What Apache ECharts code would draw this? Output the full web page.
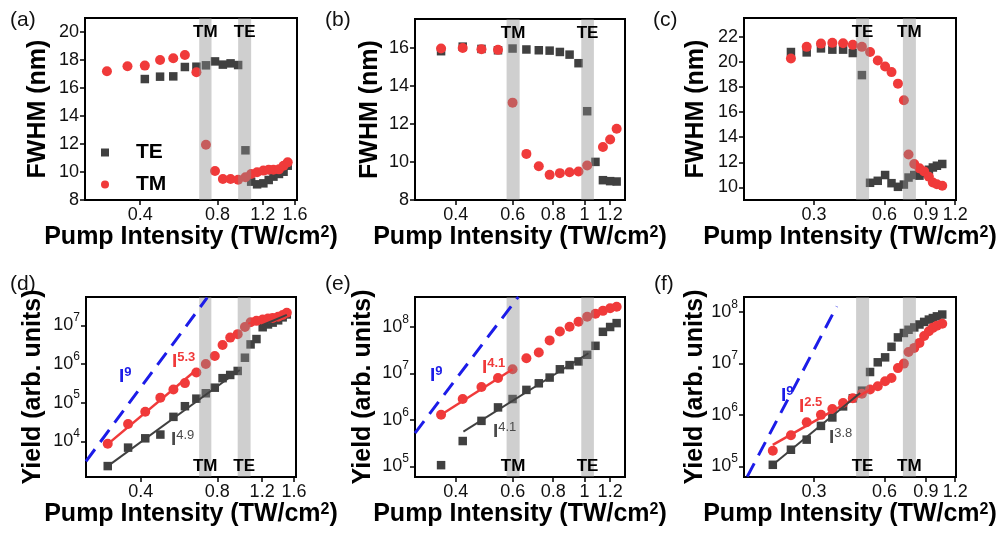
<!DOCTYPE html>
<html><head><meta charset="utf-8">
<script src="https://cdn.jsdelivr.net/npm/echarts@6/dist/echarts.min.js"></script>
<style>html,body{margin:0;padding:0;background:#fff}#c{width:1004px;height:535px}</style>
</head><body><div id="c"></div>
<script>
const FONT = "'Liberation Sans', Arial, Helvetica, sans-serif";

// ---------- Panel (a) FWHM ----------
const aTMx = [0.297,0.357,0.417,0.478,0.538,0.597,0.662,0.721,0.782,0.839,0.899,0.962,1.027,1.081,1.14,1.206,1.265,1.32,1.387,1.445,1.5];
const aTMy = [17.2,17.55,17.6,18.0,18.12,18.36,17.12,11.95,10.07,9.5,9.5,9.45,9.62,9.86,9.98,10.1,10.16,10.16,10.19,10.45,10.69];
const aTEx = [0.417,0.478,0.538,0.597,0.662,0.721,0.782,0.839,0.899,0.962,1.027,1.081,1.14,1.206,1.265,1.32,1.387,1.445,1.5];
const aTEy = [16.64,16.81,16.83,17.5,17.52,17.62,17.9,17.67,17.76,17.64,11.55,9.31,9.12,9.19,9.43,9.67,9.86,10.02,10.45];

// ---------- Panel (b) FWHM ----------
const bTEx = [0.36,0.42,0.48,0.54,0.599,0.661,0.722,0.78,0.839,0.899,0.958,1.019,1.081,1.14,1.2,1.257];
const bTEy = [15.81,16.05,15.93,15.86,15.95,15.9,15.86,15.84,15.77,15.63,15.18,12.66,10.0,9.04,8.99,8.97];
const bTMx = [0.36,0.42,0.48,0.54,0.599,0.661,0.722,0.78,0.839,0.899,0.958,1.019,1.14,1.2,1.257];
const bTMy = [15.95,15.98,15.91,15.88,13.11,10.42,9.77,9.32,9.41,9.46,9.5,9.81,10.78,11.18,11.74];

// ---------- Panel (c) FWHM ----------
const cX = [0.239,0.279,0.321,0.359,0.399,0.439,0.48,0.52,0.561,0.603,0.642,0.684,0.725,0.759,0.803,0.845,0.885,0.927,0.964,1.003,1.057];
const cTMy = [20.28,21.2,21.46,21.52,21.49,21.36,21.2,20.79,20.12,19.64,19.19,18.27,16.94,12.62,11.87,11.52,11.28,10.85,10.39,10.26,10.13];
const cTEy = [20.79,20.76,21.08,20.98,20.98,20.71,18.95,10.37,10.53,10.99,10.34,10.05,10.23,10.79,10.99,10.94,11.15,11.41,11.59,11.73,11.87];

// ---------- Panel (d) Yield ----------
const dX = [0.297,0.357,0.417,0.478,0.538,0.597,0.662,0.721,0.782,0.839,0.899,0.962,1.027,1.081,1.14,1.206,1.265,1.32,1.387,1.445,1.5];
const dTMy = [8.7e3,2.8e4,5.8e4,1.35e5,2.2e5,3.2e5,6.0e5,1.0e6,1.6e6,3.1e6,4.8e6,5.9e6,9.0e6,1.2e7,1.3e7,1.4e7,1.5e7,1.55e7,1.65e7,1.85e7,2.1e7];
const dTEy = [2.3e3,6.9e3,1.2e4,1.5e4,4.3e4,8.1e4,1.27e5,1.75e5,2.44e5,4.3e5,5.2e5,6.6e5,1.45e6,3.2e6,4.4e6,8.9e6,1.05e7,1.17e7,1.34e7,1.6e7,1.9e7];
const dFitTMx = [0.297,0.67],  dFitTMy = [8.5e3,7.5e5];
const dFitTEx = [0.297,0.98],  dFitTEy = [2.3e3,7.0e5];
const dTopTMx = [1.058,1.5],   dTopTMy = [1.1e7,2.2e7];
const dTopTEx = [1.2,1.5],     dTopTEy = [1.0e7,1.85e7];
const dI9x = [0.244,0.73],     dI9y = [3.06e3,5.15e7];

// ---------- Panel (e) Yield ----------
const eX = [0.36,0.42,0.48,0.54,0.599,0.661,0.722,0.78,0.839,0.899,0.958,1.019,1.081,1.14,1.2,1.257];
const eTMy = [1.29e6,2.8e6,5.1e6,7.9e6,1.22e7,2.1e7,2.8e7,5.1e7,7.9e7,1.0e8,1.28e8,1.64e8,1.9e8,2.2e8,2.5e8,2.7e8];
const eTEy = [1.06e5,3.5e5,9.5e5,1.85e6,2.8e6,4.4e6,6.1e6,8.1e6,1.22e7,1.5e7,1.8e7,2.5e7,3.9e7,7.8e7,9.9e7,1.2e8];
const eFitTMx = [0.36,0.599],  eFitTMy = [1.29e6,1.22e7];
const eFitTEx = [0.422,1.028], eFitTEy = [5.6e5,2.7e7];
const eI9x = [0.299,0.624],    eI9y = [5.2e5,4.4e8];

// ---------- Panel (f) Yield ----------
const fX = [0.2,0.239,0.279,0.321,0.359,0.399,0.439,0.48,0.52,0.561,0.603,0.642,0.684,0.725,0.759,0.803,0.845,0.885,0.927,0.964,1.003,1.057];
const fTMy = [2.0e5,4.0e5,7.2e5,1.0e6,1.3e6,1.7e6,2.1e6,2.57e6,3.1e6,3.6e6,4.5e6,5.2e6,8.1e6,9.9e6,1.66e7,2.0e7,2.5e7,3.4e7,4.2e7,4.9e7,5.4e7,5.9e7];
const fTEy = [1.07e5,2.1e5,3.3e5,6.1e5,8.9e5,1.46e6,2.1e6,2.95e6,6.8e6,1.05e7,1.31e7,2.1e7,3.2e7,3.9e7,4.5e7,5.0e7,5.7e7,6.4e7,7.1e7,7.6e7,8.2e7,8.9e7];
const fFitTMx = [0.2,0.655],   fFitTMy = [2.6e5,5.6e6];
const fFitTEx = [0.2,0.472],   fFitTEy = [1.07e5,2.65e6];
const fTopTMx = [0.851,1.071], fTopTMy = [2.7e7,6.4e7];
const fI9x = [0.1556,0.375],   fI9y = [6.3e4,1.28e8];

// ---------- bands (mode resonances) ----------
const bandsADnames = ['TM','TE'], bandsADlo = [0.679,0.962], bandsADhi = [0.758,1.081];
const bandsBEnames = ['TM','TE'], bandsBElo = [0.574,0.977], bandsBEhi = [0.630,1.069];
const bandsCFnames = ['TE','TM'], bandsCFlo = [0.4535,0.718], bandsCFhi = [0.515,0.816];

// ---------- axis ranges and ticks ----------
const xRangeAD = [0.244,1.63], xRangeBE = [0.299,1.334], xRangeCF = [0.1507,1.21];
const xTicksAD = [0.4,0.8,1.2,1.6], xTicksBE = [0.4,0.6,0.8,1,1.2], xTicksCF = [0.3,0.6,0.9,1.2];
const yRangeA = [8,21], yTicksA = [8,10,12,14,16,18,20];
const yRangeB = [8,17.5], yTicksB = [8,10,12,14,16];
const yRangeC = [9,23.5], yTicksC = [10,12,14,16,18,20,22];
const yRangeD = [1202,5.37e7], yTicksD = [4,5,6,7];
const yRangeE = [5.9e4,4.37e8], yTicksE = [5,6,7,8];
const yRangeF = [6.2e4,1.95e8], yTicksF = [5,6,7,8];

const RED = '#f03a3a', DARK = '#404040', BLUE = '#1c1ce8';
const zip = (xs, ys) => xs.map((x, i) => [x, ys[i]]);

const grids = [], xAxes = [], yAxes = [], series = [];

function addPanel(p) {
  const gi = grids.length;
  grids.push({left: p.box[0], top: p.box[1], width: p.box[2], height: p.box[3],
    show: true, borderColor: '#000', borderWidth: 2, backgroundColor: 'transparent'});
  const xi = xAxes.length;
  xAxes.push({gridIndex: gi, type: 'log', logBase: 10, min: p.xRange[0], max: p.xRange[1],
    axisLine: {show: false, onZero: false}, axisTick: {show: false}, axisLabel: {show: false}, splitLine: {show: false}});
  const xt = p.xTicks.map(Math.log10);
  xAxes.push({gridIndex: gi, type: 'value', position: 'bottom',
    min: Math.log10(p.xRange[0]), max: Math.log10(p.xRange[1]),
    axisLine: {show: false, onZero: false}, splitLine: {show: false},
    axisTick: {show: true, inside: false, length: 5, lineStyle: {color: '#000', width: 1.5}, customValues: xt},
    axisLabel: {show: true, customValues: xt, margin: 6, fontSize: 18, color: '#111', fontFamily: FONT,
      formatter: v => String(+Math.pow(10, v).toFixed(2))},
    name: '{a|Pump Intensity (TW/cm}{b|2}{a|)}', nameLocation: 'middle', nameGap: p.xNameGap,
    nameTextStyle: {rich: {
      a: {fontSize: 25, fontWeight: 'bold', color: '#000', fontFamily: FONT},
      b: {fontSize: 16, fontWeight: 'bold', color: '#000', fontFamily: FONT, verticalAlign: 'top'}}}
  });
  let yi;
  const yName = {name: p.yName, nameLocation: 'middle', nameGap: p.yNameGap,
    nameTextStyle: {fontSize: 25, fontWeight: 'bold', color: '#000', fontFamily: FONT}};
  if (p.yLog) {
    yi = yAxes.length;
    yAxes.push({gridIndex: gi, type: 'log', logBase: 10, min: p.yRange[0], max: p.yRange[1],
      axisLine: {show: false, onZero: false}, axisTick: {show: false}, axisLabel: {show: false}, splitLine: {show: false}});
    yAxes.push(Object.assign({gridIndex: gi, type: 'value', position: 'left',
      min: Math.log10(p.yRange[0]), max: Math.log10(p.yRange[1]),
      axisLine: {show: false, onZero: false}, splitLine: {show: false},
      axisTick: {show: true, inside: false, length: 5, lineStyle: {color: '#000', width: 1.5}, customValues: p.yTicks},
      axisLabel: {show: true, customValues: p.yTicks, margin: 6,
        formatter: v => '{a|10}{b|' + Math.round(v) + '}',
        rich: {a: {fontSize: 18, color: '#111', fontFamily: FONT, lineHeight: 27},
               b: {fontSize: 12, color: '#111', fontFamily: FONT, verticalAlign: 'top', lineHeight: 13}}}
    }, yName));
  } else {
    yi = yAxes.length;
    yAxes.push(Object.assign({gridIndex: gi, type: 'value', position: 'left',
      min: p.yRange[0], max: p.yRange[1],
      axisLine: {show: false, onZero: false}, splitLine: {show: false},
      axisTick: {show: true, inside: false, length: 5, lineStyle: {color: '#000', width: 1.5}, customValues: p.yTicks},
      axisLabel: {show: true, customValues: p.yTicks, margin: 6, fontSize: 18, color: '#111', fontFamily: FONT}
    }, yName));
  }
  // data
  series.push({type: 'scatter', name: 'TE', xAxisIndex: xi, yAxisIndex: yi, data: zip(p.teX, p.teY),
    symbol: 'rect', symbolSize: 8.5, itemStyle: {color: DARK, opacity: 1}, z: 2, silent: true});
  series.push({type: 'scatter', name: 'TM', xAxisIndex: xi, yAxisIndex: yi, data: zip(p.tmX, p.tmY),
    symbol: 'circle', symbolSize: 10, itemStyle: {color: RED, opacity: 1}, z: 2, silent: true});
  // bands
  series.push({type: 'line', name: 'band', xAxisIndex: xi, yAxisIndex: yi, data: [], silent: true,
    markArea: {silent: true, z: 3, itemStyle: {color: 'rgba(140,140,140,0.42)', borderWidth: 0},
      label: {show: true, position: p.bandTop ? 'insideTop' : 'insideBottom', distance: p.bandTop ? 6 : 2,
        fontSize: 17, fontWeight: 'bold', color: '#000', fontFamily: FONT},
      data: p.bandNames.map((n, i) => [{name: n, xAxis: p.bandLo[i]}, {xAxis: p.bandHi[i]}])}});
  // fit lines
  (p.lines || []).forEach(l => {
    series.push({type: 'line', xAxisIndex: xi, yAxisIndex: yi, data: zip(l.x, l.y), symbol: 'none',
      silent: true, z: 4, clip: true,
      lineStyle: {color: l.color, width: l.width || 2, type: l.dash || 'solid'}});
  });
}

addPanel({box: [85,18,212,182], xRange: xRangeAD, xTicks: xTicksAD, yRange: yRangeA, yTicks: yTicksA,
  yName: 'FWHM (nm)', yNameGap: 34, xNameGap: 24, tmX: aTMx, tmY: aTMy, teX: aTEx, teY: aTEy,
  bandNames: bandsADnames, bandLo: bandsADlo, bandHi: bandsADhi, bandTop: true});
addPanel({box: [415,19,210,181], xRange: xRangeBE, xTicks: xTicksBE, yRange: yRangeB, yTicks: yTicksB,
  yName: 'FWHM (nm)', yNameGap: 32, xNameGap: 24, tmX: bTMx, tmY: bTMy, teX: bTEx, teY: bTEy,
  bandNames: bandsBEnames, bandLo: bandsBElo, bandHi: bandsBEhi, bandTop: true});
addPanel({box: [744,18,212,182], xRange: xRangeCF, xTicks: xTicksCF, yRange: yRangeC, yTicks: yTicksC,
  yName: 'FWHM (nm)', yNameGap: 35, xNameGap: 24, tmX: cX, tmY: cTMy, teX: cX, teY: cTEy,
  bandNames: bandsCFnames, bandLo: bandsCFlo, bandHi: bandsCFhi, bandTop: true});
addPanel({box: [86,297,210,180], xRange: xRangeAD, xTicks: xTicksAD, yRange: yRangeD, yTicks: yTicksD, yLog: true,
  yName: 'Yield (arb. units)', yNameGap: 40, xNameGap: 20, tmX: dX, tmY: dTMy, teX: dX, teY: dTEy,
  bandNames: bandsADnames, bandLo: bandsADlo, bandHi: bandsADhi, bandTop: false,
  lines: [{x: dFitTMx, y: dFitTMy, color: RED, width: 2.5}, {x: dFitTEx, y: dFitTEy, color: DARK},
          {x: dTopTMx, y: dTopTMy, color: RED}, {x: dTopTEx, y: dTopTEy, color: DARK},
          {x: dI9x, y: dI9y, color: BLUE, width: 3, dash: [15,9]}]});
addPanel({box: [415,297,210,180], xRange: xRangeBE, xTicks: xTicksBE, yRange: yRangeE, yTicks: yTicksE, yLog: true,
  yName: 'Yield (arb. units)', yNameGap: 39, xNameGap: 20, tmX: eX, tmY: eTMy, teX: eX, teY: eTEy,
  bandNames: bandsBEnames, bandLo: bandsBElo, bandHi: bandsBEhi, bandTop: false,
  lines: [{x: eFitTMx, y: eFitTMy, color: RED, width: 2.5}, {x: eFitTEx, y: eFitTEy, color: DARK},
          {x: eI9x, y: eI9y, color: BLUE, width: 3, dash: [15,9]}]});
addPanel({box: [744,297,212,180], xRange: xRangeCF, xTicks: xTicksCF, yRange: yRangeF, yTicks: yTicksF, yLog: true,
  yName: 'Yield (arb. units)', yNameGap: 36, xNameGap: 20, tmX: fX, tmY: fTMy, teX: fX, teY: fTEy,
  bandNames: bandsCFnames, bandLo: bandsCFlo, bandHi: bandsCFhi, bandTop: false,
  lines: [{x: fFitTMx, y: fFitTMy, color: RED, width: 2.5}, {x: fFitTEx, y: fFitTEy, color: DARK},
          {x: fTopTMx, y: fTopTMy, color: RED},
          {x: fI9x, y: fI9y, color: BLUE, width: 3, dash: [15,9]}]});

// ---------- text annotations ----------
const panelLetters = ['(a)','(b)','(c)','(d)','(e)','(f)'];
const letterPos = [[10,10],[325,10],[653,10],[10,274],[325,274],[654,274]];
const powerTexts = [
  ['9', BLUE, 119, 377, 'bold'], ['5.3', RED, 172, 362, 'bold'], ['4.9', '#4a4a4a', 171, 440, 'normal'],
  ['9', BLUE, 430, 376, 'bold'], ['4.1', RED, 482, 368, 'bold'], ['4.1', '#4a4a4a', 493, 432, 'normal'],
  ['9', BLUE, 781, 396, 'bold'], ['2.5', RED, 799, 407, 'bold'], ['3.8', '#4a4a4a', 829, 438, 'normal']];

const graphics = [];
panelLetters.forEach((t, i) => graphics.push({type: 'text', x: letterPos[i][0], y: letterPos[i][1],
  style: {text: t, fontSize: 21, fontFamily: FONT, fill: '#111', verticalAlign: 'top'}}));
powerTexts.forEach(p => graphics.push({type: 'text', x: p[2], y: p[3], z: 10,
  style: {text: '{i|I}{s|' + p[0] + '}', fill: p[1], verticalAlign: 'middle', fontFamily: FONT,
    rich: {i: {fontSize: 19, fontWeight: 'bold', fill: p[1], fontFamily: FONT, lineHeight: 22},
           s: {fontSize: 13, fontWeight: p[4], fill: p[1], fontFamily: FONT, verticalAlign: 'top', lineHeight: 13}}}}));

const chart = echarts.init(document.getElementById('c'), null, {renderer: 'canvas'});
chart.setOption({
  animation: false,
  backgroundColor: '#fff',
  textStyle: {fontFamily: FONT},
  grid: grids, xAxis: xAxes, yAxis: yAxes, series: series,
  legend: {data: ['TE','TM'], left: 96, top: 137, orient: 'vertical', itemWidth: 8, itemHeight: 8, itemGap: 11,
    selectedMode: false, textStyle: {fontSize: 21, fontWeight: 'bold', color: '#000', fontFamily: FONT, padding: [0,0,0,22]}},
  graphic: graphics
});
</script></body></html>
